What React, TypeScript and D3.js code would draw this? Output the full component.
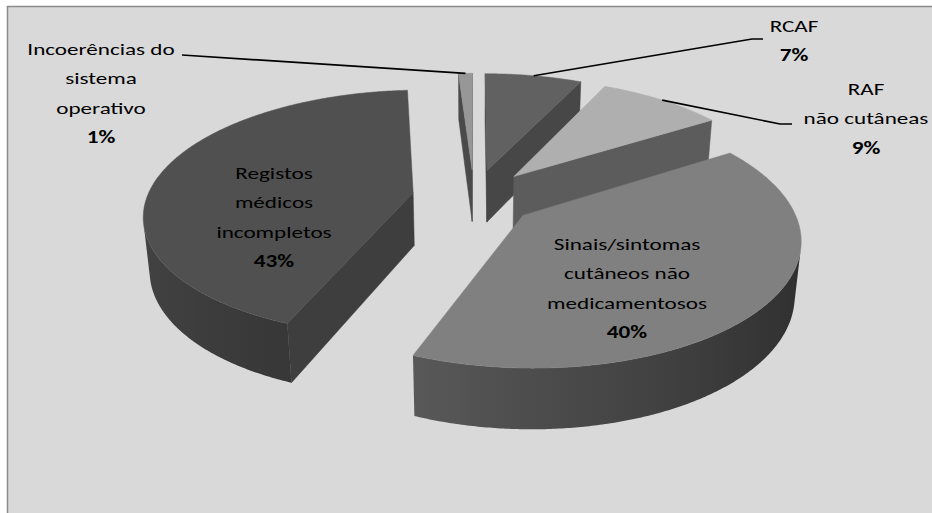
import React from 'react';
import * as d3 from 'd3';

// ---------- data ----------
const categories = ['RCAF', 'RAF não cutâneas', 'Sinais/sintomas cutâneos não medicamentosos', 'Registos médicos incompletos', 'Incoerências do sistema operativo'];
const values = [7, 9, 40, 43, 1];
const labelLines = [
  ['RCAF'],
  ['RAF', 'não cutâneas'],
  ['Sinais/sintomas', 'cutâneos não', 'medicamentosos'],
  ['Registos', 'médicos', 'incompletos'],
  ['Incoerências do', 'sistema', 'operativo'],
];
const percentLabels = ['7%', '9%', '40%', '43%', '1%'];

// ---------- styles / layout ----------
const topColors = ['#616161', '#afafaf', '#808080', '#505050', '#979797'];
const radialColors = ['#474747', '#5c5c5c', '#4c4c4c', '#3e3e3e', '#4a4a4a'];
const W = 932, H = 513;
const view = { cx: 474, cy: 197, k: 266, D: 5.4, elev: 27 * Math.PI / 180, explode: 0.233, depth: 0.228 };
const labelLayout = [
  { x: 794, y: 32, leader: [[763, 39], [752, 39]] },
  { x: 866, y: 95, leader: [[792, 124], [780, 124]] },
  { x: 627, y: 250, leader: null },
  { x: 274, y: 179, leader: null },
  { x: 101, y: 55, leader: [[182, 55]] },
];
const lineGap = 29.5;
const FONT = 'Carlito, Calibri, Lato, sans-serif';
const textStretch = 1.36;

const s = Math.sin(view.elev), c = Math.cos(view.elev);
function project(X: number, Y: number, Z: number): [number, number] {
  const v = Y * c - Z * s;
  const w = Y * s + Z * c;
  const f = view.D / (view.D - w);
  return [view.cx + view.k * X * f, view.cy - view.k * v * f];
}
const cam = [0, view.D * s, view.D * c];

function shade(hex: string, f: number) {
  const col = d3.rgb(hex);
  return d3.rgb(col.r * f, col.g * f, col.b * f).formatHex();
}
const wallFactor = (t: number) => Math.max(0.3, Math.min(0.95, 0.6 - 0.24 * Math.sin(t)));

export default function App() {
  const pie = d3.pie<number>().sort(null).startAngle(0).endAngle(2 * Math.PI);
  const arcs = pie(values);
  const Hh = view.depth;
  const line = d3.line<[number, number]>();

  const slices = arcs.map((a, i) => {
    const a0 = a.startAngle, a1 = a.endAngle, m = (a0 + a1) / 2;
    const Ox = view.explode * Math.sin(m), Oz = -view.explode * Math.cos(m);
    const pt = (t: number, r: number, Y: number) => project(Ox + r * Math.sin(t), Y, Oz - r * Math.cos(t));
    const n = Math.max(2, Math.ceil((a1 - a0) / (Math.PI / 360)));
    const ts = d3.range(n + 1).map(j => a0 + (a1 - a0) * j / n);
    const faces: { d: string; fill: string }[] = [];
    const radial = (ang: number, nx: number, nz: number) => {
      const Px = Ox + 0.5 * Math.sin(ang), Pz = Oz - 0.5 * Math.cos(ang);
      const dot = nx * (cam[0] - Px) + nz * (cam[2] - Pz);
      if (dot > 0) {
        const poly = [pt(ang, 0, 0), pt(ang, 1, 0), pt(ang, 1, -Hh), pt(ang, 0, -Hh)];
        faces.push({ d: line(poly) + 'Z', fill: radialColors[i] });
      }
    };
    radial(a0, -Math.cos(a0), -Math.sin(a0));
    radial(a1, Math.cos(a1), Math.sin(a1));
    // curved wall: contiguous visible runs
    const vis = ts.map(t => {
      const nx = Math.sin(t), nz = -Math.cos(t);
      const Px = Ox + Math.sin(t), Pz = Oz - Math.cos(t);
      return nx * (cam[0] - Px) + nz * (cam[2] - Pz) > 0;
    });
    const runs: number[][] = [];
    let cur: number[] = [];
    ts.forEach((t, j) => {
      if (vis[j]) cur.push(t);
      else if (cur.length) { runs.push(cur); cur = []; }
    });
    if (cur.length) runs.push(cur);
    const walls = runs.filter(r => r.length > 1).map((r, ri) => {
      const topPts = r.map(t => pt(t, 1, 0));
      const botPts = r.map(t => pt(t, 1, -Hh)).reverse();
      const xs = topPts.map(p => p[0]);
      const xmin = d3.min(xs)!, xmax = d3.max(xs)!;
      const stops = r.filter((_, j) => j % 4 === 0 || j === r.length - 1).map(t => {
        const p = pt(t, 1, 0);
        return { off: (p[0] - xmin) / Math.max(1, xmax - xmin), col: shade(topColors[i], wallFactor(t)) };
      }).sort((p, q) => p.off - q.off);
      return { id: `w${i}_${ri}`, d: line([...topPts, ...botPts]) + 'Z', xmin, xmax, stops };
    });
    const topPoly = [pt(0, 0, 0), ...ts.map(t => pt(t, 1, 0))];
    return { i, faces, walls, top: line(topPoly as [number, number][]) + 'Z', depthKey: Oz, pt, m };
  });

  const order = [...slices].sort((a, b) => a.depthKey - b.depthKey);

  return (
    <svg width={W} height={H} style={{ position: 'absolute', left: 0, top: 0, background: '#fff' }} fontFamily={FONT}>
      <defs>
        {slices.flatMap(sl => sl.walls.map(w => (
          <linearGradient key={w.id} id={w.id} gradientUnits="userSpaceOnUse" x1={w.xmin} x2={w.xmax} y1={0} y2={0}>
            {w.stops.map((st, j) => <stop key={j} offset={st.off} stopColor={st.col} />)}
          </linearGradient>
        )))}
      </defs>
      <rect x={7.5} y={6.5} width={W + 20} height={H + 20} fill="#d9d9d9" stroke="#8a8a8a" strokeWidth={1.5} />
      {order.map(sl => (
        <g key={sl.i}>
          {sl.faces.map((f, j) => (
            <path key={j} d={f.d} fill={f.fill} stroke={f.fill} strokeWidth={0.5} strokeLinejoin="round" />
          ))}
          {sl.walls.map(w => (
            <path key={w.id} d={w.d} fill={`url(#${w.id})`} />
          ))}
          <path d={sl.top} fill={topColors[sl.i]} stroke={topColors[sl.i]} strokeWidth={0.5} strokeLinejoin="round" />
        </g>
      ))}
      {slices.map(sl => {
        const L = labelLayout[sl.i];
        if (!L.leader) return null;
        const end = sl.pt(sl.m, 1, 0);
        const pts = [...(L.leader as [number, number][]), end];
        return <path key={'l' + sl.i} d={line(pts as [number, number][]) || ''} fill="none" stroke="#000" strokeWidth={1.7} />;
      })}
      {slices.map(sl => {
        const L = labelLayout[sl.i];
        const lines = labelLines[sl.i];
        return (
          <text key={'t' + sl.i} textAnchor="middle" fontSize={17} fill="#000"
            transform={`translate(${L.x},0) scale(${textStretch},1)`}>
            {lines.map((t, j) => (
              <tspan key={j} x={0} y={L.y + j * lineGap}>{t}</tspan>
            ))}
            <tspan x={0} y={L.y + lines.length * lineGap} fontWeight="bold">{percentLabels[sl.i]}</tspan>
          </text>
        );
      })}
    </svg>
  );
}
